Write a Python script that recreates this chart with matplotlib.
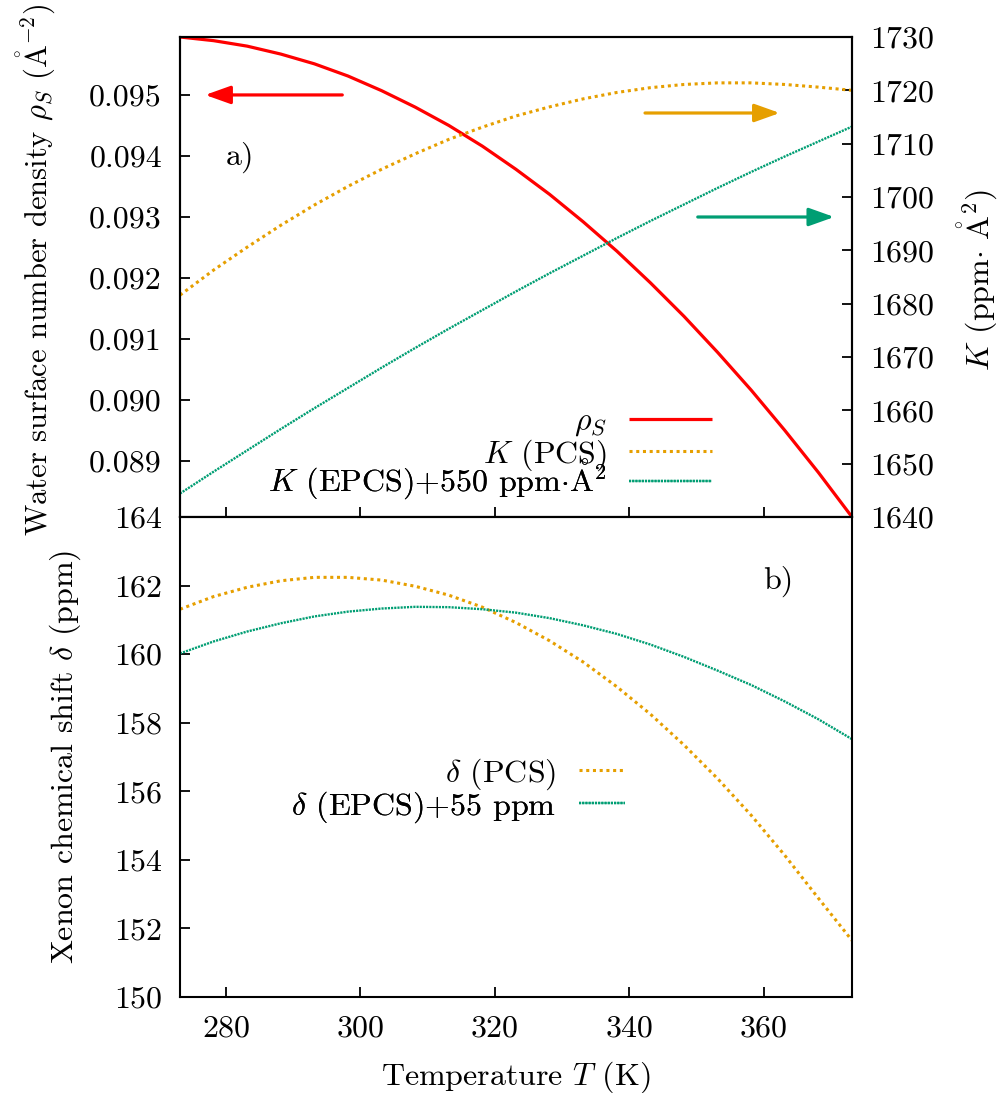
import numpy as np
import matplotlib
matplotlib.use("Agg")
import matplotlib.pyplot as plt

plt.rcParams["font.family"] = "cmr10"
plt.rcParams["mathtext.fontset"] = "cm"
plt.rcParams["axes.unicode_minus"] = False
plt.rcParams["axes.formatter.use_mathtext"] = True

# temperature grid (K)
temps = [273.15, 278.15, 283.15, 288.15, 293.15, 298.15, 303.15, 308.15,
         313.15, 318.15, 323.15, 328.15, 333.15, 338.15, 343.15, 348.15,
         353.15, 358.15, 363.15, 368.15, 373.15]

# panel a) water surface number density (1/A^2)
rho_s = [0.09595, 0.09589, 0.09580, 0.09567, 0.09551, 0.09531, 0.09507,
         0.09480, 0.09450, 0.09416, 0.09378, 0.09337, 0.09292, 0.09244,
         0.09192, 0.09137, 0.09078, 0.09016, 0.08950, 0.08881, 0.08808]
# K (ppm A^2)
k_pcs = [1681.6, 1686.3, 1690.6, 1694.7, 1698.5, 1702.0, 1705.2, 1708.1,
         1710.8, 1713.1, 1715.2, 1716.9, 1718.4, 1719.6, 1720.5, 1721.1,
         1721.4, 1721.4, 1721.1, 1720.6, 1720.0]
k_epcs = [1644.4, 1648.5, 1652.5, 1656.5, 1660.4, 1664.2, 1668.0, 1671.7,
          1675.3, 1678.8, 1682.3, 1685.7, 1689.0, 1692.3, 1695.5, 1698.6,
          1701.7, 1704.7, 1707.6, 1710.4, 1713.2]

# panel b) xenon chemical shift (ppm)
d_pcs = [161.31, 161.68, 161.95, 162.14, 162.24, 162.24, 162.16, 161.98,
         161.72, 161.37, 160.92, 160.39, 159.77, 159.05, 158.25, 157.35,
         156.37, 155.30, 154.13, 152.88, 151.65]
d_epcs = [160.02, 160.37, 160.66, 160.90, 161.10, 161.24, 161.33, 161.38,
          161.37, 161.31, 161.21, 161.05, 160.84, 160.59, 160.28, 159.92,
          159.52, 159.10, 158.62, 158.10, 157.52]

rho_ticks = [0.089, 0.090, 0.091, 0.092, 0.093, 0.094, 0.095]
k_ticks = [1640, 1650, 1660, 1670, 1680, 1690, 1700, 1710, 1720, 1730]
d_ticks = [150, 152, 154, 156, 158, 160, 162, 164]
t_ticks = [280, 300, 320, 340, 360]

red = "#ff0000"
orange = "#e69f00"
green = "#009e73"
fs = 23

fig = plt.figure(figsize=(10.03, 10.93), dpi=100)
ax1 = fig.add_axes([180/1003, 1-517/1093, 672/1003, 480/1093])
ax2 = fig.add_axes([180/1003, 1-997/1093, 672/1003, 480/1093])
ax1r = ax1.twinx()

for a in (ax1, ax2, ax1r):
    for s in a.spines.values():
        s.set_linewidth(1.5)


def key_rows(ax, handles, labels, x, ys, hlen):
    # gnuplot-like key: one row per entry, text right-aligned, sample on the right
    for h, lab, y in zip(handles, labels, ys):
        leg = ax.legend([h], [lab], loc="center right", bbox_to_anchor=(x, y),
                        frameon=False, markerfirst=False, fontsize=fs,
                        handlelength=hlen, handletextpad=0.7,
                        borderpad=0, borderaxespad=0)
        ax.add_artist(leg)


# top panel
l1, = ax1.plot(temps, rho_s, color=red, lw=2.3, solid_capstyle="butt")
l2, = ax1r.plot(temps, k_pcs, color=orange, lw=2.2, ls=(0, (1, 1.2)))
l3, = ax1r.plot(temps, k_epcs, color=green, lw=1.7, ls=(0, (0.9, 0.45)))

ax1.set_xlim(273.15, 373.15)
ax1.set_ylim(0.08808, 0.09595)
ax1r.set_ylim(1640, 1730)
ax1.set_xticks(t_ticks)
ax1.set_yticks(rho_ticks)
ax1.set_yticklabels(["%.3f" % v for v in rho_ticks])
ax1r.set_yticks(k_ticks)
ax1r.set_yticklabels([str(v) for v in k_ticks])
ax1.tick_params(axis="x", direction="in", length=7, width=1.3,
                bottom=True, top=False, labelbottom=False)
ax1.tick_params(axis="y", direction="in", length=7, width=1.3,
                left=True, right=False, labelsize=fs, pad=13)
ax1r.tick_params(axis="y", direction="in", length=7, width=1.3,
                 labelsize=fs, pad=13)

ax1.set_ylabel(r"Water surface number density $\rho_S$ ($\mathring{\mathrm{A}}^{-2}$)",
               fontsize=22)
ax1.yaxis.set_label_coords(-0.183, 0.515)
ax1r.set_ylabel(r"$K$ (ppm$\cdot$ $\mathring{\mathrm{A}}^{2}$)", fontsize=fs)
ax1r.yaxis.set_label_coords(1.155, 0.494)

ax1.text(0.089, 0.75, "a)", transform=ax1.transAxes, fontsize=fs,
         ha="center", va="center")

arr = dict(arrowstyle="-|>,head_length=0.7,head_width=0.25", lw=2.3,
           mutation_scale=22, shrinkA=0, shrinkB=0)
ax1.annotate("", xy=(276.9, 0.0950), xytext=(297.3, 0.0950),
             arrowprops=dict(arr, color=red))
ax1r.annotate("", xy=(362.4, 1715.75), xytext=(342.35, 1715.75),
              arrowprops=dict(arr, color=orange))
ax1r.annotate("", xy=(370.5, 1696.25), xytext=(350.2, 1696.25),
              arrowprops=dict(arr, color=green))

key_rows(ax1r, [l1, l2, l3],
         [r"$\rho_S$", r"$K$ (PCS)",
          r"$K$ (EPCS)+550 ppm$\cdot\mathring{\mathrm{A}}^2$"],
         0.7917, [0.1958, 0.1292, 0.077], 2.6)

# bottom panel
m1, = ax2.plot(temps, d_pcs, color=orange, lw=2.2, ls=(0, (1, 1.2)))
m2, = ax2.plot(temps, d_epcs, color=green, lw=1.7, ls=(0, (0.9, 0.45)))
ax2.set_xlim(273.15, 373.15)
ax2.set_ylim(150, 164)
ax2.set_xticks(t_ticks)
ax2.set_xticklabels([str(v) for v in t_ticks])
ax2.set_yticks(d_ticks)
ax2.set_yticklabels([str(v) for v in d_ticks])
ax2.tick_params(axis="x", direction="in", length=7, width=1.3,
                bottom=True, top=False, labelsize=fs, pad=13)
ax2.tick_params(axis="y", direction="in", length=7, width=1.3,
                left=True, right=False, labelsize=fs, pad=13)

ax2.set_xlabel(r"Temperature $T$ (K)", fontsize=fs)
ax2.xaxis.set_label_coords(0.5, -0.13)
ax2.set_ylabel(r"Xenon chemical shift $\delta$ (ppm)", fontsize=fs)
ax2.yaxis.set_label_coords(-0.145, 0.5)

ax2.text(0.89, 0.865, "b)", transform=ax2.transAxes, fontsize=fs,
         ha="center", va="center")

key_rows(ax2, [m1, m2], [r"$\delta$ (PCS)", r"$\delta$ (EPCS)+55 ppm"],
         0.662, [0.4645, 0.3958], 1.45)

fig.savefig("out.png", dpi=100)
